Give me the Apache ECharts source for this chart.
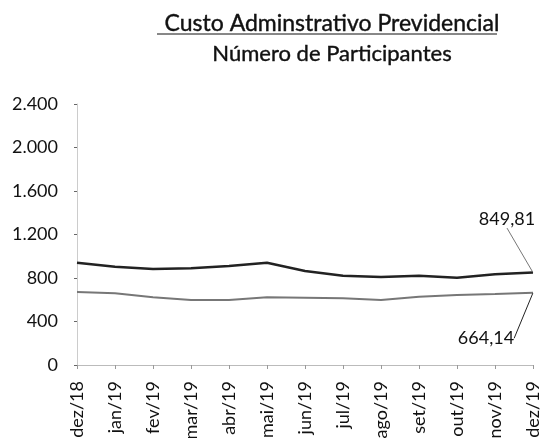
<!DOCTYPE html>
<html><head><meta charset="utf-8">
<script src="https://cdn.jsdelivr.net/npm/echarts@6/dist/echarts.min.js"></script>
<style>html,body{margin:0;padding:0;background:#fff}#c{width:544px;height:438px}</style>
</head><body><div id="c"></div>
<script>
const categories = ['dez/18','jan/19','fev/19','mar/19','abr/19','mai/19','jun/19','jul/19','ago/19','set/19','out/19','nov/19','dez/19'];
const custoAdm = [941, 904, 883, 889, 910, 941, 864, 821, 809, 821, 803, 834, 849.81];
const participantes = [671, 659, 622, 598, 598, 622, 619, 613, 598, 628, 644, 653, 664.14];
const titleText = 'Custo Adminstrativo Previdencial';
const subtitleText = 'Número de Participantes';

const font = 'Lato, sans-serif';
const fmt = v => v.toFixed(2).replace('.', ',');
const chart = echarts.init(document.getElementById('c'), null, {renderer: 'canvas'});
const labelLast = (arr, lineColor) => arr.map((v, i) => i === arr.length - 1 ? {
  value: v,
  label: {show: true, position: 'top', fontFamily: font, fontSize: 18, color: '#111', opacity: 1, formatter: p => fmt(p.value)},
  labelLine: {show: true, length2: 0, lineStyle: {color: lineColor, width: 1, opacity: 1}}
} : v);
chart.setOption({
  animation: false,
  backgroundColor: '#fff',
  title: [
    {text: titleText, left: 327, top: 7, textAlign: 'center',
     textStyle: {fontFamily: font, fontSize: 23, fontWeight: 'normal', color: '#111', textBorderColor: '#111', textBorderWidth: 0.4}},
    {text: subtitleText, left: 327, top: 38, textAlign: 'center',
     textStyle: {fontFamily: font, fontSize: 22, fontWeight: 'normal', color: '#111', textBorderColor: '#111', textBorderWidth: 0.4}}
  ],
  graphic: [{type: 'line', shape: {x1: 157, y1: 34, x2: 497, y2: 34}, style: {stroke: '#111', lineWidth: 1}}],
  grid: {left: 77, right: 11, top: 104, bottom: 73, containLabel: false, outerBoundsMode: 'none'},
  xAxis: {
    type: 'category', data: categories, boundaryGap: false,
    axisLine: {lineStyle: {color: '#bbb'}},
    axisTick: {show: true, alignWithLabel: true, lineStyle: {color: '#999'}, length: 4},
    axisLabel: {rotate: 90, fontFamily: font, fontSize: 18, color: '#111', margin: 16, interval: 0}
  },
  yAxis: {
    type: 'value', min: 0, max: 2400, interval: 400,
    axisLine: {show: true, lineStyle: {color: '#ccc'}},
    axisTick: {show: true, inside: false, length: 3, lineStyle: {color: '#666'}},
    splitLine: {show: false},
    axisLabel: {fontFamily: font, fontSize: 18, color: '#111', margin: 19,
      formatter: v => v.toLocaleString('de-DE')}
  },
  series: [
    {type: 'line', data: labelLast(custoAdm, '#777'), symbol: 'circle', symbolSize: 1,
     lineStyle: {color: '#222', width: 2.5}, itemStyle: {color: '#222', opacity: 0},
     label: {show: false, opacity: 1}, labelLayout: p => p.dataIndex === custoAdm.length - 1 ? {dx: -26, dy: -39} : {}
    },
    {type: 'line', data: labelLast(participantes, '#222'), symbol: 'circle', symbolSize: 1,
     lineStyle: {color: '#777', width: 2}, itemStyle: {color: '#777', opacity: 0},
     label: {show: false, opacity: 1}, labelLayout: p => p.dataIndex === participantes.length - 1 ? {dx: -47, dy: 60} : {}
    }
  ]
});
</script></body></html>
